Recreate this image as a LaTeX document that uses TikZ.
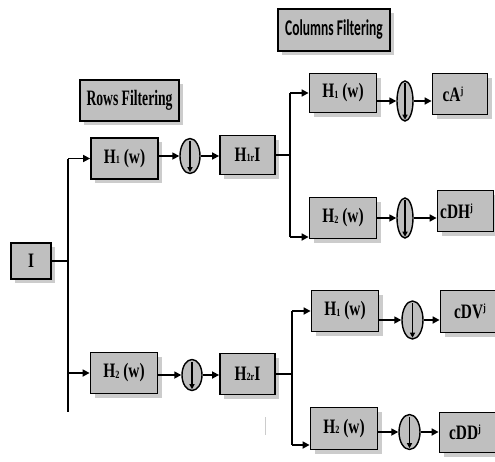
\documentclass[tikz,border=0pt]{standalone}
\usepackage{fontspec}
\newfontfamily\rfont{Liberation Serif}[FakeStretch=0.75]
\newfontfamily\tfont{Liberation Serif}[FakeStretch=0.62]
\newfontfamily\cfont{Carlito}[FakeStretch=0.6]
\usetikzlibrary{arrows.meta,shadows,shapes.geometric}
\newcommand{\sbs}[1]{\raisebox{-0.5pt}{\fontsize{11}{11}\selectfont #1}}
\newcommand{\sps}[1]{\raisebox{7pt}{\fontsize{11}{11}\selectfont #1}}
\tikzset{
  blk/.style={draw=black, line width=1.8pt, fill=black!25, inner sep=0pt,
    drop shadow={shadow xshift=4pt, shadow yshift=-4pt, fill=black!20, opacity=1},
    font=\rfont\bfseries\fontsize{20.5}{20.5}\selectfont},
  dn/.style={ellipse, draw=black, line width=1.4pt, fill=black!25, inner sep=0pt},
  arr/.style={line width=1.6pt, -{Triangle[length=7pt,width=7pt]}},
  inarr/.style={line width=1.2pt, -{Triangle[length=5pt,width=5pt]}},
  ln/.style={line width=1.6pt}
}
\begin{document}
\begin{tikzpicture}[x=1pt,y=-1pt]
\useasboundingbox (0,0) rectangle (495,461);
% titles
\node[blk, minimum width=99pt, minimum height=41pt, font=\tfont\bfseries\fontsize{22}{22}\selectfont] (rows) at (129.5,100.5) {Rows Filtering};
\node[blk, minimum width=112pt, minimum height=42pt, font=\cfont\bfseries\fontsize{22.5}{22.5}\selectfont] (cols) at (334,30) {Columns Filtering};
% input
\node[blk, minimum width=40pt, minimum height=36pt] (I) at (31,261) {I};
% rows stage
\node[blk, minimum width=67pt, minimum height=41pt] (H1r) at (124.5,158.5) {H\sbs{1} (w)};
\node[dn, minimum width=20pt, minimum height=35pt] (c1) at (190,156) {};
\node[blk, minimum width=55pt, minimum height=39pt] (H1rI) at (247.5,155) {H\sbs{1r}I};
\node[blk, minimum width=67pt, minimum height=41pt] (H2r) at (124,373) {H\sbs{2} (w)};
\node[dn, minimum width=20pt, minimum height=31pt] (c2) at (192,375) {};
\node[blk, minimum width=55pt, minimum height=41pt] (H2rI) at (247.5,374) {H\sbs{2r}I};
% columns stage, top
\node[blk, minimum width=67pt, minimum height=39pt] (H1a) at (343,93) {H\sbs{1} (w)};
\node[dn, minimum width=16pt, minimum height=40pt] (c3) at (405,101) {};
\node[blk, minimum width=55pt, minimum height=41pt] (cA) at (460,94) {cA\sps{j}\hspace*{14pt}};
\node[blk, minimum width=67pt, minimum height=41pt] (H2a) at (343,218) {H\sbs{2} (w)};
\node[dn, minimum width=16pt, minimum height=40pt] (c4) at (405,218) {};
\node[blk, minimum width=56pt, minimum height=41pt] (cDH) at (465.5,211) {cDH\sps{j}\hspace*{18pt}};
% columns stage, bottom
\node[blk, minimum width=67pt, minimum height=41pt] (H1b) at (345,311) {H\sbs{1} (w)};
\node[dn, minimum width=21pt, minimum height=38pt] (c5) at (412.5,320) {};
\node[blk, minimum width=59pt, minimum height=42pt] (cDV) at (470,311.5) {cDV\sps{j}};
\node[blk, minimum width=67pt, minimum height=42pt] (H2b) at (344,428.5) {H\sbs{2} (w)};
\node[dn, minimum width=21pt, minimum height=35pt] (c6) at (409.5,432) {};
\node[blk, minimum width=59pt, minimum height=40pt] (cDD) at (469,432.5) {cDD\sps{j}\hspace*{8pt}};
% down-sampling arrows inside circles
\foreach \c in {c1,c2,c3,c4,c5,c6}
  \draw[inarr] ([yshift=-3pt]\c.north) -- ([yshift=2pt]\c.south);
% row tree
\coordinate (va) at (68,158.5);
\coordinate (vb) at (68,412);
\draw[ln] (va) -- (vb);
\draw[ln] (I.east) -- (I.east -| va);
\draw[arr] (va) -- (H1r.west);
\draw[arr] (H2r.west -| va) -- (H2r.west);
\draw[arr] (H1r.east |- c1) -- (c1.west);
\draw[arr] (c1.east) -- (H1rI.west |- c1.east);
\draw[arr] (H2r.east |- c2) -- (c2.west);
\draw[arr] (c2.east) -- (H2rI.west |- c2.east);
% top column tree
\coordinate (ta) at (290,93);
\coordinate (tb) at (290,237);
\draw[ln] (H1rI.east) -- (H1rI.east -| ta);
\draw[ln] (ta) -- (tb);
\draw[arr] (ta) -- (H1a.west |- ta);
\draw[arr] (tb) -- (H2a.west |- tb);
\draw[arr] (H1a.east |- c3) -- (c3.west);
\draw[arr] (c3.east) -- (cA.west |- c3);
\draw[arr] (H2a.east |- c4) -- (c4.west);
\draw[arr] (c4.east) -- (cDH.west |- c4);
% bottom column tree
\coordinate (ba) at (292,311);
\coordinate (bb) at (292,445);
\draw[ln] (H2rI.east) -- (H2rI.east -| ba);
\draw[ln] (ba) -- (bb);
\draw[arr] (ba) -- (H1b.west |- ba);
\draw[arr] (bb) -- (H2b.west |- bb);
\draw[arr] (H1b.east |- c5) -- (c5.west);
\draw[arr] (c5.east) -- (cDV.west |- c5);
\draw[arr] (H2b.east |- c6) -- (c6.west);
\draw[arr] (c6.east) -- (cDD.west |- c6);
% faint mark
\coordinate (fm1) at (265,417);
\coordinate (fm2) at (265,435);
\draw[black!20, line width=0.8pt] (fm1) -- (fm2);
\end{tikzpicture}
\end{document}
